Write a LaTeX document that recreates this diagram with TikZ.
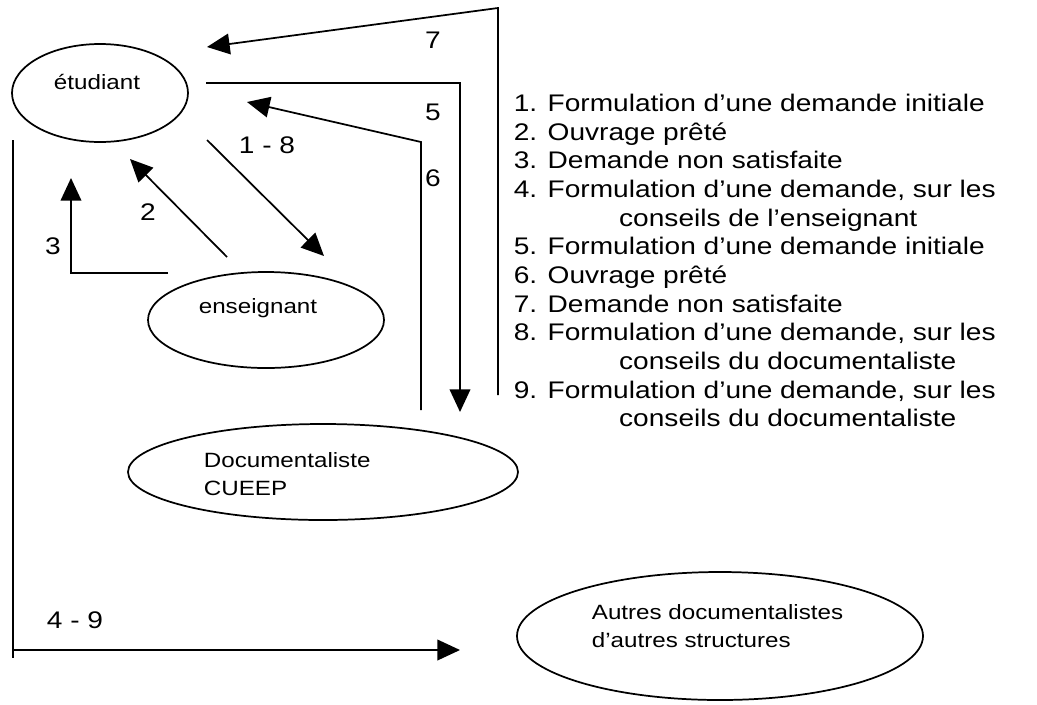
\documentclass[tikz,border=0pt]{standalone}
\usepackage{fontspec}
\setmainfont[FakeStretch=1.17]{Liberation Sans}
\usetikzlibrary{shapes.geometric,arrows.meta}

\tikzset{every picture/.style={line width=1.3pt}}
\tikzset{
  actor/.style={draw, ellipse, inner sep=0pt},
  flow/.style={-{Triangle[length=17pt,width=15.5pt]}},
  numlbl/.style={inner sep=0.75pt, font=\fontsize{18}{21.5}\selectfont},
  intext/.style={inner sep=0.75pt, font=\fontsize{15.5}{20.5}\selectfont, align=left},
}

\begin{document}
\begin{tikzpicture}[x=0.75pt,y=0.75pt,yscale=-1,xscale=1]
\useasboundingbox (0,0) rectangle (1037,704);

%Ellipses
\node [actor, minimum width=132pt, minimum height=73.5pt] (etu) at (100,93) {};
\node [actor, minimum width=177pt, minimum height=72pt] (ens) at (266,320) {};
\node [actor, minimum width=292.5pt, minimum height=72pt] (doc) at (323,472) {};
\node [actor, minimum width=304.5pt, minimum height=96pt] (aut) at (720,636) {};

% Text Node
\node [intext] (etu-t) at (97,82) {étudiant};
% Text Node
\node [intext] (ens-t) at (258,308) {enseignant};
% Text Node
\node [intext, anchor=west] (doc-t) at (202,474) {Documentaliste\\CUEEP};
% Text Node
\node [intext, anchor=west] (aut-t) at (590,626) {Autres documentalistes\\d’autres structures};

%Bend points
\coordinate (p7a) at (498,395); \coordinate (p7b) at (498,8); \coordinate (p7c) at (207,47);
\coordinate (p5a) at (206,83); \coordinate (p5b) at (460,83); \coordinate (p5c) at (460,412);
\coordinate (p6a) at (421,410); \coordinate (p6b) at (421,142); \coordinate (p6c) at (247,102);
\coordinate (p18a) at (207,140); \coordinate (p18b) at (324,256);
\coordinate (p2a) at (227,257); \coordinate (p2b) at (130,159);
\coordinate (p3a) at (168,273); \coordinate (p3b) at (71,273); \coordinate (p3c) at (71,178);
\coordinate (p49a) at (13,140); \coordinate (p49b) at (13,658);
\coordinate (p49c) at (13,650); \coordinate (p49d) at (460,650);

%Straight Lines
\draw [flow] (p7a) -- (p7b) -- (p7c);
\draw [flow] (p5a) -- (p5b) -- (p5c);
\draw [flow] (p6a) -- (p6b) -- (p6c);
\draw [flow] (p18a) -- (p18b);
\draw [flow] (p2a) -- (p2b);
\draw [flow] (p3a) -- (p3b) -- (p3c);
\draw (p49a) -- (p49b);
\draw [flow] (p49c) -- (p49d);

% Text Node
\node [numlbl] (n7) at (433,40) {7};
\node [numlbl] (n5) at (433,112) {5};
\node [numlbl] (n6) at (433,178) {6};
\node [numlbl] (n18) at (267,145) {1 - 8};
\node [numlbl] (n2) at (148,212) {2};
\node [numlbl] (n3) at (53,246) {3};
\node [numlbl] (n49) at (75,620) {4 - 9};

% Text Node
\node [numlbl, anchor=west, align=left] (legend) at (512,260.5) {1. Formulation d’une demande initiale\\
2. Ouvrage prêté\\
3. Demande non satisfaite\\
4. Formulation d’une demande, sur les\\
\hspace*{79pt}conseils de l’enseignant\\
5. Formulation d’une demande initiale\\
6. Ouvrage prêté\\
7. Demande non satisfaite\\
8. Formulation d’une demande, sur les\\
\hspace*{79pt}conseils du documentaliste\\
9. Formulation d’une demande, sur les\\
\hspace*{79pt}conseils du documentaliste};

\end{tikzpicture}
\end{document}
